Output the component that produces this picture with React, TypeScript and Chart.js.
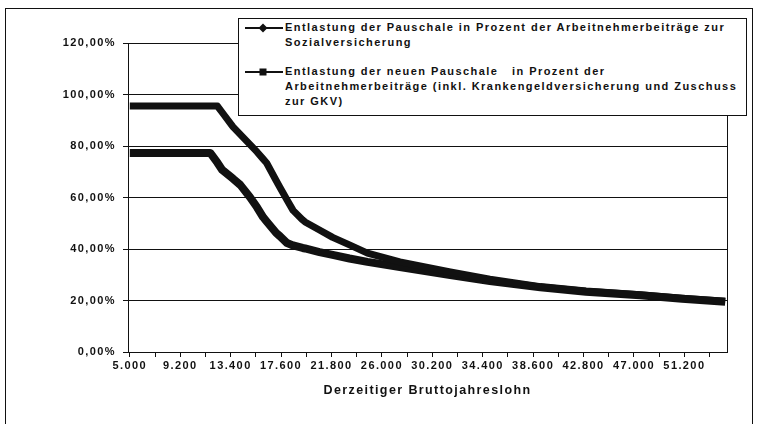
import React, { useEffect, useRef } from 'react';
import { Chart, registerables } from 'chart.js';

Chart.register(...registerables);

// Income (DM) at which values were read
const INCOME = [5000, 11700, 12300, 12700, 13600, 14200, 15000, 15600, 16100, 16400, 17200, 17500, 18100, 18600, 19400, 19600, 20800, 21900, 23300, 24800, 27500, 31700, 35000, 39200, 43000, 47500, 51000, 54600];

// Entlastung der Pauschale in % der AN-Beiträge zur Sozialversicherung
const PAUSCHALE = [95.5, 95.5, 95.5, 93.0, 87.4, 84.5, 80.6, 77.7, 75.0, 73.4, 66.5, 64.0, 59.0, 55.0, 51.3, 50.5, 47.4, 44.5, 41.6, 38.4, 35.0, 31.1, 28.3, 25.4, 23.7, 22.2, 20.9, 19.7];

// Entlastung der neuen Pauschale in % der AN-Beiträge (inkl. Krankengeld, Zuschuss GKV)
const NEUE_PAUSCHALE = [77.3, 77.3, 73.5, 70.7, 67.3, 64.9, 60.2, 56.2, 52.4, 50.7, 46.2, 45.0, 42.3, 41.4, 40.4, 40.2, 38.8, 37.7, 36.3, 35.0, 33.0, 29.9, 27.6, 25.1, 23.4, 22.0, 20.7, 19.5];

const X_TICKS = [5000, 7100, 9200, 11300, 13400, 15500, 17600, 19700, 21800, 23900, 26000, 28100, 30200, 32300, 34400, 36500, 38600, 40700, 42800, 44900, 47000, 49100, 51200, 53300];
const X_TICK_LABELS = ['5.000', '9.200', '13.400', '17.600', '21.800', '26.000', '30.200', '34.400', '38.600', '42.800', '47.000', '51.200'];
const Y_TICK_LABELS = ['0,00%', '20,00%', '40,00%', '60,00%', '80,00%', '100,00%', '120,00%'];

const X_TITLE = 'Derzeitiger Bruttojahreslohn';
const LEGEND_1 = ['Entlastung der Pauschale in Prozent der Arbeitnehmerbeiträge zur', 'Sozialversicherung'];
const LEGEND_2 = ['Entlastung der neuen Pauschale   in Prozent der', 'Arbeitnehmerbeiträge (inkl. Krankengeldversicherung und Zuschuss', 'zur GKV)'];

const FONT_FAMILY = '"Liberation Sans", Arial, Helvetica, sans-serif';
const INK = '#111111';

const spacingPlugin = {
  id: 'letterSpacing',
  beforeDraw(chart: any) {
    (chart.ctx as any).letterSpacing = '1.4px';
  },
};

export default function App() {
  const ref = useRef<HTMLCanvasElement>(null);

  useEffect(() => {
    const tickFont = { family: FONT_FAMILY, size: 11, weight: 'bold' as const };
    const chart = new Chart(ref.current!, {
      type: 'line',
      data: {
        datasets: [
          {
            label: LEGEND_1.join(' '),
            data: INCOME.map((x, i) => ({ x, y: PAUSCHALE[i] })),
            borderColor: INK,
            borderWidth: 7,
            pointRadius: 0,
            tension: 0,
            borderJoinStyle: 'round',
            borderCapStyle: 'butt',
          },
          {
            label: LEGEND_2.join(' '),
            data: INCOME.map((x, i) => ({ x, y: NEUE_PAUSCHALE[i] })),
            borderColor: INK,
            borderWidth: 8,
            pointRadius: 0,
            tension: 0,
            borderJoinStyle: 'round',
            borderCapStyle: 'butt',
          },
        ],
      },
      options: {
        animation: false,
        responsive: false,
        layout: { padding: { left: 0, top: 43, right: 32, bottom: 0 } },
        plugins: { legend: { display: false }, tooltip: { enabled: false } },
        scales: {
          x: {
            type: 'linear',
            min: 4850,
            max: 54750,
            afterBuildTicks: (s: any) => {
              s.ticks = X_TICKS.map((v) => ({ value: v }));
            },
            afterFit: (s: any) => {
              s.height = 72;
            },
            ticks: {
              autoSkip: false,
              maxRotation: 0,
              padding: 2,
              color: INK,
              font: tickFont,
              callback: (_v: any, i: number) => (i % 2 === 0 ? X_TICK_LABELS[i / 2] ?? '' : ''),
            },
            grid: { drawOnChartArea: false, drawTicks: true, tickLength: 5, color: INK, lineWidth: 1 },
            border: { display: true, color: INK, width: 1 },
            title: {
              display: true,
              text: X_TITLE,
              color: INK,
              font: { family: FONT_FAMILY, size: 12.5, weight: 'bold' },
              padding: { top: 0, bottom: 26 },
            },
          },
          y: {
            min: 0,
            max: 120,
            afterFit: (s: any) => {
              s.width = 128;
            },
            ticks: {
              stepSize: 20,
              padding: 7,
              color: INK,
              font: tickFont,
              callback: (_v: any, i: number) => Y_TICK_LABELS[i],
            },
            grid: { color: INK, lineWidth: 1, tickLength: 5, drawTicks: true },
            border: { display: true, color: INK, width: 1 },
          },
          y2: {
            position: 'right',
            display: true,
            min: 0,
            max: 120,
            afterFit: (s: any) => {
              s.width = 0;
            },
            ticks: { display: false },
            grid: { display: false },
            border: { display: true, color: INK, width: 1 },
          },
        },
      },
      plugins: [spacingPlugin],
    } as any);
    return () => chart.destroy();
  }, []);

  const textStyle: React.CSSProperties = {
    position: 'absolute',
    left: 285,
    fontFamily: FONT_FAMILY,
    fontWeight: 'bold',
    fontSize: 11,
    letterSpacing: '1.45px',
    lineHeight: '15px',
    color: INK,
    whiteSpace: 'pre',
  };

  return (
    <div
      style={{
        position: 'fixed',
        left: 0,
        top: 0,
        width: 759,
        height: 424,
        overflow: 'hidden',
        background: '#fff',
      }}
    >
      <canvas
        ref={ref}
        width={759}
        height={424}
        style={{ position: 'absolute', left: 0, top: 0, width: 759, height: 424 }}
      />
      {/* outer chart frame */}
      <div
        style={{
          position: 'absolute',
          left: 5,
          top: 8,
          width: 746,
          height: 440,
          border: `1px solid ${INK}`,
          pointerEvents: 'none',
        }}
      />
      {/* legend box */}
      <div
        style={{
          position: 'absolute',
          left: 238,
          top: 18,
          width: 507,
          height: 96,
          border: `1px solid ${INK}`,
          background: '#fff',
        }}
      />
      <svg
        width={44}
        height={110}
        style={{ position: 'absolute', left: 243, top: 10 }}
      >
        <line x1={2} y1={18} x2={40} y2={18} stroke={INK} strokeWidth={2} />
        <polygon points="20,13.5 24.5,18 20,22.5 15.5,18" fill={INK} />
        <line x1={2} y1={62} x2={40} y2={62} stroke={INK} strokeWidth={2} />
        <rect x={16.5} y={58.5} width={7} height={7} fill={INK} />
      </svg>
      <div style={{ ...textStyle, top: 20 }}>
        {LEGEND_1.map((l, i) => (
          <div key={i}>{l}</div>
        ))}
      </div>
      <div style={{ ...textStyle, top: 64 }}>
        {LEGEND_2.map((l, i) => (
          <div key={i}>{l}</div>
        ))}
      </div>
    </div>
  );
}
